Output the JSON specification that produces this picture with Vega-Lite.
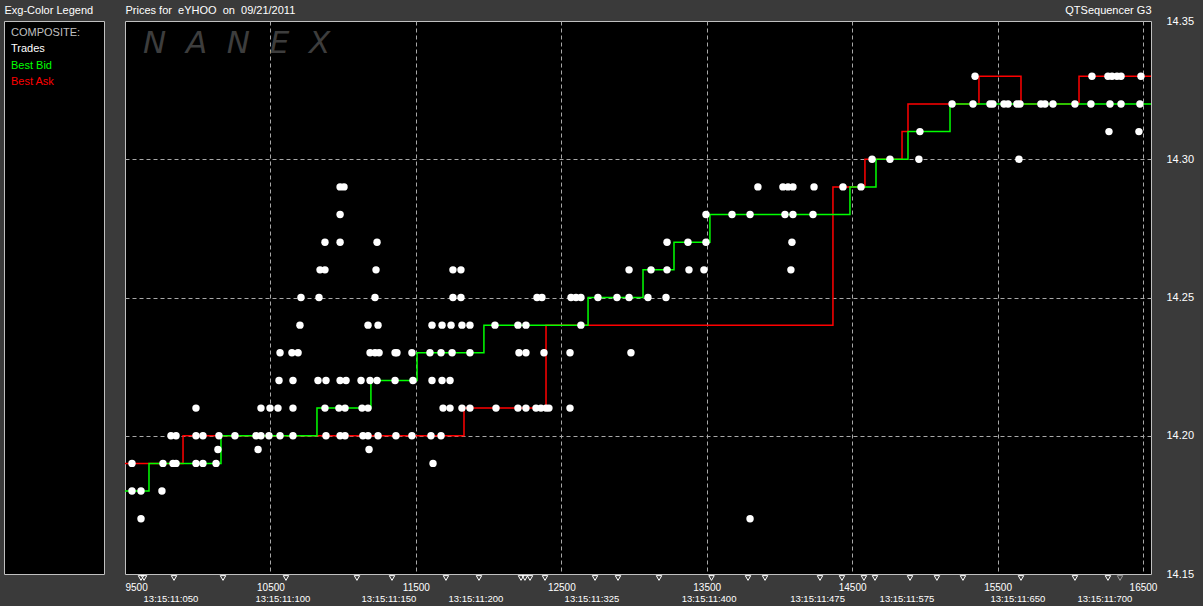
{
  "$schema": "https://vega.github.io/schema/vega-lite/v6.json",
  "background": "#3a3a3a",
  "padding": {"left": 3, "top": 3, "right": 8, "bottom": 2},
  "config": {
    "font": "Liberation Sans",
    "view": {"fill": "#000000", "stroke": "#c0c0c0", "strokeWidth": 1},
    "axis": {"labelColor": "#ffffff", "titleColor": "#ffffff", "titleFontWeight": "normal", "titleFontSize": 11, "labelFont": "Liberation Sans", "titleFont": "Liberation Sans"},
    "concat": {"spacing": 16}
  },
  "datasets": {
    "legendRows": [
      {"label": "COMPOSITE:"}, {"label": "Trades"}, {"label": "Best Bid"}, {"label": "Best Ask"}
    ],
    "quotes": [
      {"side": "Best Ask", "seq": 9500, "price": 14.19},
      {"side": "Best Ask", "seq": 9899, "price": 14.20},
      {"side": "Best Ask", "seq": 11831, "price": 14.21},
      {"side": "Best Ask", "seq": 12395, "price": 14.24},
      {"side": "Best Ask", "seq": 14368, "price": 14.29},
      {"side": "Best Ask", "seq": 14588, "price": 14.30},
      {"side": "Best Ask", "seq": 14843, "price": 14.31},
      {"side": "Best Ask", "seq": 14884, "price": 14.32},
      {"side": "Best Ask", "seq": 15372, "price": 14.33},
      {"side": "Best Ask", "seq": 15661, "price": 14.32},
      {"side": "Best Ask", "seq": 16060, "price": 14.33},
      {"side": "Best Ask", "seq": 16555, "price": 14.33},
      {"side": "Best Bid", "seq": 9500, "price": 14.18},
      {"side": "Best Bid", "seq": 9665, "price": 14.19},
      {"side": "Best Bid", "seq": 10160, "price": 14.20},
      {"side": "Best Bid", "seq": 10820, "price": 14.21},
      {"side": "Best Bid", "seq": 11191, "price": 14.22},
      {"side": "Best Bid", "seq": 11508, "price": 14.23},
      {"side": "Best Bid", "seq": 11968, "price": 14.24},
      {"side": "Best Bid", "seq": 12684, "price": 14.25},
      {"side": "Best Bid", "seq": 13062, "price": 14.26},
      {"side": "Best Bid", "seq": 13275, "price": 14.27},
      {"side": "Best Bid", "seq": 13522, "price": 14.28},
      {"side": "Best Bid", "seq": 14485, "price": 14.29},
      {"side": "Best Bid", "seq": 14664, "price": 14.30},
      {"side": "Best Bid", "seq": 14884, "price": 14.31},
      {"side": "Best Bid", "seq": 15173, "price": 14.32},
      {"side": "Best Bid", "seq": 16555, "price": 14.32}
    ],
    "trades": [
      {"seq": 9610, "price": 14.17}, {"seq": 13798, "price": 14.17},
      {"seq": 9548, "price": 14.18}, {"seq": 9610, "price": 14.18}, {"seq": 9754, "price": 14.18},
      {"seq": 9548, "price": 14.19}, {"seq": 9761, "price": 14.19}, {"seq": 9830, "price": 14.19}, {"seq": 9851, "price": 14.19}, {"seq": 9988, "price": 14.19}, {"seq": 10036, "price": 14.19}, {"seq": 10126, "price": 14.19}, {"seq": 11618, "price": 14.19},
      {"seq": 10139, "price": 14.195}, {"seq": 10415, "price": 14.195}, {"seq": 11178, "price": 14.195},
      {"seq": 9816, "price": 14.20}, {"seq": 9851, "price": 14.20}, {"seq": 9988, "price": 14.20}, {"seq": 10036, "price": 14.20}, {"seq": 10146, "price": 14.20}, {"seq": 10256, "price": 14.20}, {"seq": 10401, "price": 14.20}, {"seq": 10435, "price": 14.20}, {"seq": 10490, "price": 14.20}, {"seq": 10566, "price": 14.20}, {"seq": 10655, "price": 14.20}, {"seq": 10882, "price": 14.20}, {"seq": 10979, "price": 14.20}, {"seq": 11013, "price": 14.20}, {"seq": 11136, "price": 14.20}, {"seq": 11171, "price": 14.20}, {"seq": 11240, "price": 14.20}, {"seq": 11363, "price": 14.20}, {"seq": 11473, "price": 14.20}, {"seq": 11604, "price": 14.20}, {"seq": 11673, "price": 14.20},
      {"seq": 9988, "price": 14.21}, {"seq": 10435, "price": 14.21}, {"seq": 10497, "price": 14.21}, {"seq": 10552, "price": 14.21}, {"seq": 10655, "price": 14.21}, {"seq": 10875, "price": 14.21}, {"seq": 10971, "price": 14.21}, {"seq": 11013, "price": 14.21}, {"seq": 11130, "price": 14.21}, {"seq": 11171, "price": 14.21}, {"seq": 11687, "price": 14.21}, {"seq": 11735, "price": 14.21}, {"seq": 11817, "price": 14.21}, {"seq": 11872, "price": 14.21}, {"seq": 12051, "price": 14.21}, {"seq": 12202, "price": 14.21}, {"seq": 12257, "price": 14.21}, {"seq": 12326, "price": 14.21}, {"seq": 12360, "price": 14.21}, {"seq": 12395, "price": 14.21}, {"seq": 12415, "price": 14.21}, {"seq": 12560, "price": 14.21},
      {"seq": 10559, "price": 14.22}, {"seq": 10655, "price": 14.22}, {"seq": 10827, "price": 14.22}, {"seq": 10882, "price": 14.22}, {"seq": 10979, "price": 14.22}, {"seq": 11020, "price": 14.22}, {"seq": 11123, "price": 14.22}, {"seq": 11185, "price": 14.22}, {"seq": 11233, "price": 14.22}, {"seq": 11357, "price": 14.22}, {"seq": 11480, "price": 14.22}, {"seq": 11611, "price": 14.22}, {"seq": 11680, "price": 14.22}, {"seq": 11735, "price": 14.22},
      {"seq": 10566, "price": 14.23}, {"seq": 10648, "price": 14.23}, {"seq": 10690, "price": 14.23}, {"seq": 11185, "price": 14.23}, {"seq": 11219, "price": 14.23}, {"seq": 11247, "price": 14.23}, {"seq": 11357, "price": 14.23}, {"seq": 11370, "price": 14.23}, {"seq": 11473, "price": 14.23}, {"seq": 11597, "price": 14.23}, {"seq": 11673, "price": 14.23}, {"seq": 11749, "price": 14.23}, {"seq": 11872, "price": 14.23}, {"seq": 12209, "price": 14.23}, {"seq": 12257, "price": 14.23}, {"seq": 12381, "price": 14.23}, {"seq": 12560, "price": 14.23}, {"seq": 12979, "price": 14.23},
      {"seq": 10703, "price": 14.24}, {"seq": 11171, "price": 14.24}, {"seq": 11240, "price": 14.24}, {"seq": 11611, "price": 14.24}, {"seq": 11680, "price": 14.24}, {"seq": 11742, "price": 14.24}, {"seq": 11817, "price": 14.24}, {"seq": 11872, "price": 14.24}, {"seq": 12044, "price": 14.24}, {"seq": 12202, "price": 14.24}, {"seq": 12257, "price": 14.24}, {"seq": 12635, "price": 14.24},
      {"seq": 10710, "price": 14.25}, {"seq": 10834, "price": 14.25}, {"seq": 11219, "price": 14.25}, {"seq": 11755, "price": 14.25}, {"seq": 11810, "price": 14.25}, {"seq": 12333, "price": 14.25}, {"seq": 12367, "price": 14.25}, {"seq": 12567, "price": 14.25}, {"seq": 12601, "price": 14.25}, {"seq": 12635, "price": 14.25}, {"seq": 12752, "price": 14.25}, {"seq": 12883, "price": 14.25}, {"seq": 12966, "price": 14.25}, {"seq": 13096, "price": 14.25}, {"seq": 13220, "price": 14.25},
      {"seq": 10841, "price": 14.26}, {"seq": 10875, "price": 14.26}, {"seq": 11226, "price": 14.26}, {"seq": 11755, "price": 14.26}, {"seq": 11810, "price": 14.26}, {"seq": 12966, "price": 14.26}, {"seq": 13117, "price": 14.26}, {"seq": 13227, "price": 14.26}, {"seq": 13378, "price": 14.26}, {"seq": 13481, "price": 14.26}, {"seq": 14079, "price": 14.26},
      {"seq": 10875, "price": 14.27}, {"seq": 10979, "price": 14.27}, {"seq": 11233, "price": 14.27}, {"seq": 13227, "price": 14.27}, {"seq": 13371, "price": 14.27}, {"seq": 13495, "price": 14.27}, {"seq": 14086, "price": 14.27},
      {"seq": 10979, "price": 14.28}, {"seq": 13495, "price": 14.28}, {"seq": 13674, "price": 14.28}, {"seq": 13798, "price": 14.28}, {"seq": 14038, "price": 14.28}, {"seq": 14093, "price": 14.28}, {"seq": 14231, "price": 14.28},
      {"seq": 10979, "price": 14.29}, {"seq": 11006, "price": 14.29}, {"seq": 13852, "price": 14.29}, {"seq": 14024, "price": 14.29}, {"seq": 14059, "price": 14.29}, {"seq": 14093, "price": 14.29}, {"seq": 14238, "price": 14.29}, {"seq": 14437, "price": 14.29}, {"seq": 14561, "price": 14.29},
      {"seq": 14637, "price": 14.30}, {"seq": 14760, "price": 14.30}, {"seq": 14959, "price": 14.30}, {"seq": 15647, "price": 14.30},
      {"seq": 14966, "price": 14.31}, {"seq": 16266, "price": 14.31}, {"seq": 16472, "price": 14.31},
      {"seq": 15187, "price": 14.32}, {"seq": 15331, "price": 14.32}, {"seq": 15448, "price": 14.32}, {"seq": 15468, "price": 14.32}, {"seq": 15544, "price": 14.32}, {"seq": 15572, "price": 14.32}, {"seq": 15633, "price": 14.32}, {"seq": 15654, "price": 14.32}, {"seq": 15798, "price": 14.32}, {"seq": 15826, "price": 14.32}, {"seq": 15881, "price": 14.32}, {"seq": 16032, "price": 14.32}, {"seq": 16142, "price": 14.32}, {"seq": 16273, "price": 14.32}, {"seq": 16349, "price": 14.32}, {"seq": 16479, "price": 14.32},
      {"seq": 15345, "price": 14.33}, {"seq": 16149, "price": 14.33}, {"seq": 16259, "price": 14.33}, {"seq": 16287, "price": 14.33}, {"seq": 16321, "price": 14.33}, {"seq": 16349, "price": 14.33}, {"seq": 16486, "price": 14.33}
    ],
    "markers": [
      {"seq": 9610, "kind": "plain"}, {"seq": 9631, "kind": "plain"}, {"seq": 9837, "kind": "plain"}, {"seq": 10174, "kind": "plain"}, {"seq": 10607, "kind": "plain"}, {"seq": 11095, "kind": "plain"}, {"seq": 11336, "kind": "plain"}, {"seq": 11707, "kind": "plain"}, {"seq": 11934, "kind": "plain"}, {"seq": 12223, "kind": "plain"}, {"seq": 12250, "kind": "plain"}, {"seq": 12285, "kind": "plain"}, {"seq": 12388, "kind": "plain"}, {"seq": 12732, "kind": "plain"}, {"seq": 12890, "kind": "plain"}, {"seq": 13172, "kind": "plain"}, {"seq": 13533, "kind": "plain"}, {"seq": 13784, "kind": "plain"}, {"seq": 13901, "kind": "plain"}, {"seq": 14279, "kind": "plain"}, {"seq": 14430, "kind": "plain"}, {"seq": 14581, "kind": "plain"}, {"seq": 14657, "kind": "plain"}, {"seq": 14898, "kind": "plain"}, {"seq": 15083, "kind": "plain"}, {"seq": 15262, "kind": "plain"}, {"seq": 15661, "kind": "plain"}, {"seq": 16032, "kind": "plain"}, {"seq": 16259, "kind": "plain"}, {"seq": 16342, "kind": "gray"}
    ],
    "times": [
      {"seq": 9816, "time": "13:15:11:050"}, {"seq": 10586, "time": "13:15:11:100"}, {"seq": 11315, "time": "13:15:11:150"}, {"seq": 11913, "time": "13:15:11:200"}, {"seq": 12711, "time": "13:15:11:325"}, {"seq": 13516, "time": "13:15:11:400"}, {"seq": 14262, "time": "13:15:11:475"}, {"seq": 14877, "time": "13:15:11:575"}, {"seq": 15640, "time": "13:15:11:650"}, {"seq": 16238, "time": "13:15:11:700"}
    ],
    "watermark": [{"text": "N\u00a0\u00a0A\u00a0\u00a0N\u00a0\u00a0E\u00a0\u00a0X"}]
  },
  "hconcat": [
    {
      "width": 100,
      "height": 553,
      "data": {"name": "legendRows"},
      "mark": {"type": "text", "align": "left", "baseline": "middle", "fontSize": 11, "x": 7},
      "encoding": {
        "y": {"field": "label", "type": "nominal", "sort": null,
              "scale": {"type": "point", "range": [12, 61], "padding": 0},
              "axis": {"title": "Exg-Color Legend", "labels": false, "ticks": false, "domain": false, "grid": false,
                       "titleAngle": 0, "titleX": 0, "titleY": -8, "titleAlign": "left", "titleBaseline": "alphabetic", "titleAnchor": "start"}},
        "text": {"field": "label", "type": "nominal"},
        "color": {"field": "label", "type": "nominal",
                  "scale": {"domain": ["COMPOSITE:", "Trades", "Best Bid", "Best Ask"], "range": ["#c0c0c0", "#ffffff", "#00ff00", "#ff0000"]},
                  "legend": null}
      }
    },
    {
      "width": 1026,
      "height": 553,
      "layer": [
        {
          "data": {"name": "quotes"},
          "mark": {"type": "line", "interpolate": "step-after", "strokeWidth": 1.5},
          "encoding": {
            "x": {"field": "seq", "type": "quantitative",
                  "scale": {"domain": [9500, 16555], "nice": false, "zero": false},
                  "axis": {"orient": "bottom", "title": null, "values": [9500, 10500, 11500, 12500, 13500, 14500, 15500, 16500],
                           "format": "d", "labelFlush": true, "labelOverlap": false, "ticks": false, "domain": false,
                           "labelPadding": 8, "labelFontSize": 10, "labelColor": "#ffffff",
                           "grid": true, "gridColor": "#a8a8a8", "gridDash": [4, 3], "gridWidth": 1,
                           "gridOpacity": {"condition": {"test": "datum.value <= 9500", "value": 0}, "value": 1}}},
            "y": {"field": "price", "type": "quantitative",
                  "scale": {"domain": [14.15, 14.35], "nice": false, "zero": false},
                  "axis": {"orient": "right", "values": [14.15, 14.2, 14.25, 14.3, 14.35], "format": ".2f",
                           "ticks": false, "domain": false, "labelPadding": 15, "labelFontSize": 11, "labelColor": "#ffffff",
                           "grid": true, "gridColor": "#a8a8a8", "gridDash": [4, 3], "gridWidth": 1,
                           "gridOpacity": {"condition": {"test": "datum.value < 14.16 || datum.value > 14.34", "value": 0}, "value": 1},
                           "title": "QTSequencer G3", "titleAngle": 0, "titleX": 0, "titleY": -8, "titleAlign": "right", "titleBaseline": "alphabetic"}},
            "color": {"field": "side", "type": "nominal",
                      "scale": {"domain": ["COMPOSITE:", "Trades", "Best Bid", "Best Ask"], "range": ["#c0c0c0", "#ffffff", "#00ff00", "#ff0000"]},
                      "legend": null}
          }
        },
        {
          "data": {"name": "trades"},
          "mark": {"type": "circle", "size": 55, "color": "#ffffff", "opacity": 1},
          "encoding": {
            "x": {"field": "seq", "type": "quantitative", "axis": null},
            "y": {"field": "price", "type": "quantitative"}
          }
        },
        {
          "data": {"name": "watermark"},
          "mark": {"type": "text", "font": "DejaVu Sans", "fontStyle": "italic", "fontSize": 31, "color": "#3d3d3d", "align": "left", "baseline": "alphabetic"},
          "encoding": {
            "x": {"datum": 9624, "type": "quantitative",
                  "axis": {"orient": "top", "title": "Prices for\u00a0 eYHOO\u00a0 on\u00a0 09/21/2011", "labels": false, "ticks": false, "domain": false, "grid": false,
                           "titleX": 0, "titleY": -8, "titleAlign": "left", "titleAnchor": "start", "titleBaseline": "alphabetic", "titleAngle": 0}},
            "y": {"datum": 14.3384, "type": "quantitative"},
            "text": {"field": "text"}
          }
        },
        {
          "data": {"name": "markers"},
          "mark": {"type": "point", "shape": "triangle-down", "size": 30, "filled": false, "strokeWidth": 1, "yOffset": 4, "opacity": 1},
          "encoding": {
            "x": {"field": "seq", "type": "quantitative", "axis": null},
            "y": {"datum": 14.15, "type": "quantitative"},
            "stroke": {"field": "kind", "type": "nominal", "scale": {"domain": ["plain", "gray"], "range": ["#ffffff", "#9a9a9a"]}, "legend": null}
          }
        },
        {
          "data": {"name": "times"},
          "mark": {"type": "text", "fontSize": 9.5, "color": "#ffffff", "baseline": "middle", "align": "center", "dy": 25},
          "encoding": {
            "x": {"field": "seq", "type": "quantitative", "axis": null},
            "y": {"datum": 14.15, "type": "quantitative"},
            "text": {"field": "time"}
          }
        }
      ],
      "resolve": {"axis": {"x": "independent"}}
    }
  ]
}
